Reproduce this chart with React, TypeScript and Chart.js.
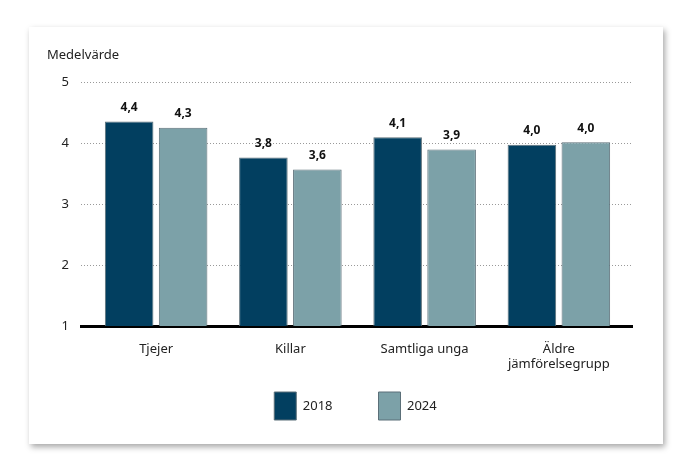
import React, { useEffect, useRef } from "react";
import { Chart, registerables } from "chart.js";

Chart.register(...registerables);

const categories: (string | string[])[] = ["Tjejer", "Killar", "Samtliga unga", ["Äldre", "jämförelsegrupp"]];
const values2018 = [4.36, 3.77, 4.1, 3.98];
const values2024 = [4.26, 3.57, 3.9, 4.02];
const labels2018 = ["4,4", "3,8", "4,1", "4,0"];
const labels2024 = ["4,3", "3,6", "3,9", "4,0"];
const yTicks = [1, 2, 3, 4, 5];

const FONT = "'Noto Sans', 'Open Sans', sans-serif";

const valueLabels = {
  id: "valueLabels",
  afterDatasetsDraw(chart: any) {
    const ctx = chart.ctx;
    const texts = [labels2018, labels2024];
    ctx.save();
    ctx.font = `bold 12px ${FONT}`;
    ctx.fillStyle = "#111";
    ctx.textAlign = "center";
    ctx.textBaseline = "bottom";
    chart.data.datasets.forEach((_ds: any, di: number) => {
      const meta = chart.getDatasetMeta(di);
      meta.data.forEach((bar: any, i: number) => {
        ctx.fillText(texts[di][i], bar.x, bar.y - 8);
      });
    });
    ctx.restore();
  },
};

// inset the category axis a little inside the grid area, let its labels overflow downwards,
// and nudge the legend to the right
const layoutTweaks = {
  id: "layoutTweaks",
  afterLayout(chart: any) {
    const x = chart.scales.x;
    x._startPixel = x.left + 8;
    x._endPixel = x.right - 6;
    x._length = x._endPixel - x._startPixel;
    x.bottom = chart.height;
    if (chart.legend) {
      chart.legend.left += 16;
      chart.legend.right += 16;
    }
  },
};

export default function App() {
  const ref = useRef<HTMLCanvasElement | null>(null);
  useEffect(() => {
    if (!ref.current) return;
    const chart = new Chart(ref.current, {
      type: "bar",
      data: {
        labels: categories as any,
        datasets: [
          {
            label: "2018",
            data: values2018,
            backgroundColor: "#023f60",
            borderColor: "#5b6f78",
            borderWidth: 1,
            categoryPercentage: 0.804,
            barPercentage: 0.9,
          },
          {
            label: "2024",
            data: values2024,
            backgroundColor: "#7ca1a8",
            borderColor: "#5b6f78",
            borderWidth: 1,
            categoryPercentage: 0.804,
            barPercentage: 0.9,
          },
        ],
      },
      options: {
        animation: false,
        responsive: false,
        devicePixelRatio: 1,
        layout: { padding: { top: 20, left: 18, right: 31, bottom: 14 } },
        plugins: {
          title: {
            display: true,
            text: "Medelvärde",
            align: "start",
            color: "#222",
            font: { family: FONT, size: 13, weight: "normal" },
            padding: { top: 0, bottom: 20 },
          },
          legend: {
            position: "bottom",
            labels: {
              boxWidth: 22,
              boxHeight: 28,
              padding: 46,
              color: "#222",
              font: { family: FONT, size: 13 },
            },
          },
          tooltip: { enabled: false },
        },
        scales: {
          x: {
            afterFit(scale: any) {
              scale.height = 20;
            },
            grid: { display: false },
            border: { display: true, color: "#000", width: 3 },
            ticks: { color: "#222", font: { family: FONT, size: 13 }, padding: 7, maxRotation: 0 },
          },
          y: {
            min: 1,
            max: 5,
            afterFit(scale: any) {
              scale.width = 34;
            },
            afterBuildTicks(scale: any) {
              scale.ticks = yTicks.map((v) => ({ value: v }));
            },
            grid: { color: "#999", drawTicks: false, lineWidth: 1 },
            border: { display: false, dash: [1, 2] },
            ticks: { color: "#222", font: { family: FONT, size: 13 }, padding: 12 },
          },
        },
      },
      plugins: [valueLabels, layoutTweaks],
    } as any);
    return () => chart.destroy();
  }, []);
  return (
    <div
      style={{
        position: "absolute",
        left: 29,
        top: 27,
        width: 634,
        height: 417,
        background: "#fff",
        boxShadow: "2px 3px 6px rgba(0,0,0,0.35)",
      }}
    >
      <canvas ref={ref} width={634} height={417} style={{ display: "block" }} />
    </div>
  );
}
